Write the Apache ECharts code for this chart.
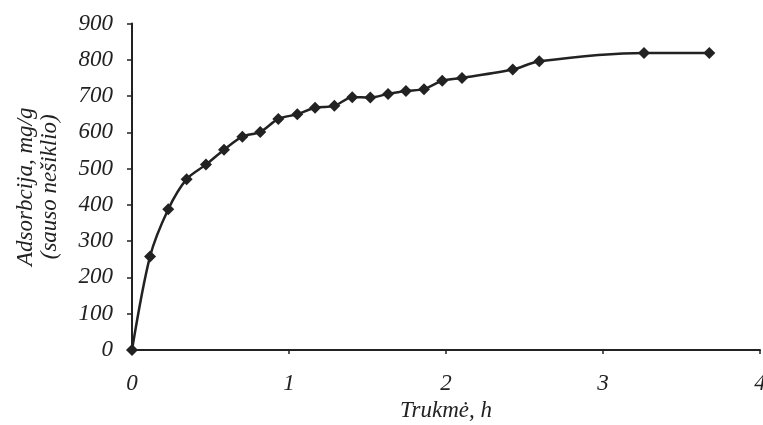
<!DOCTYPE html>
<html lang="lt">
<head>
    <meta charset="utf-8">
    <title>Adsorbcija</title>
    <script src="https://cdn.jsdelivr.net/npm/echarts@6/dist/echarts.min.js"></script>
    <style type="text/css">
        html, body { margin: 0; padding: 0; background: #fff; }
        #main { width: 763px; height: 425px; }
    </style>
</head>
<body>
<div id="main"></div>
<script type="text/javascript">
    // laikas, h
    var trukme = [0, 0.115, 0.231, 0.348, 0.471, 0.586, 0.703, 0.817, 0.932, 1.053,
        1.166, 1.289, 1.403, 1.518, 1.631, 1.745, 1.860, 1.976, 2.102, 2.425,
        2.594, 3.261, 3.677];
    // adsorbcija, mg/g
    var adsorbcija = [0, 258, 388, 471, 511, 552, 588, 601, 637, 650,
        668, 673, 697, 696, 706, 714, 719, 742, 750, 773,
        796, 819, 819];

    var points = trukme.map(function (t, i) { return [t, adsorbcija[i]]; });

    var fontBase = {
        fontFamily: 'Liberation Serif',
        fontStyle: 'italic',
        color: '#222'
    };

    var myChart = echarts.init(document.getElementById('main'));
    var option = {
        animation: false,
        grid: { left: 132, right: 3, top: 23.5, bottom: 75, outerBoundsMode: 'none' },
        xAxis: {
            type: 'value',
            min: 0, max: 4, interval: 1,
            name: 'Trukmė, h',
            nameLocation: 'middle',
            nameGap: 45,
            nameTextStyle: Object.assign({ fontSize: 23 }, fontBase),
            axisLine: { lineStyle: { color: '#222', width: 2 } },
            axisTick: { show: true, length: 4, lineStyle: { color: '#222', width: 1.5 } },
            axisLabel: Object.assign({ fontSize: 23, margin: 22 }, fontBase),
            splitLine: { show: false }
        },
        yAxis: {
            type: 'value',
            min: 0, max: 900, interval: 100,
            name: 'Adsorbcija, mg/g\n(sauso nešiklio)',
            nameLocation: 'middle',
            nameGap: 70,
            nameTextStyle: Object.assign({ fontSize: 23, lineHeight: 24 }, fontBase),
            axisLine: { show: true, lineStyle: { color: '#222', width: 2 } },
            axisTick: { show: true, length: 5, lineStyle: { color: '#222', width: 1.5 } },
            axisLabel: Object.assign({ fontSize: 23, margin: 19 }, fontBase),
            splitLine: { show: false }
        },
        series: [{
            type: 'line',
            data: points,
            smooth: 0.3,
            symbol: 'diamond',
            symbolSize: 12,
            lineStyle: { color: '#222', width: 2.5 },
            itemStyle: { color: '#222' }
        }]
    };
    myChart.setOption(option);
</script>
</body>
</html>
